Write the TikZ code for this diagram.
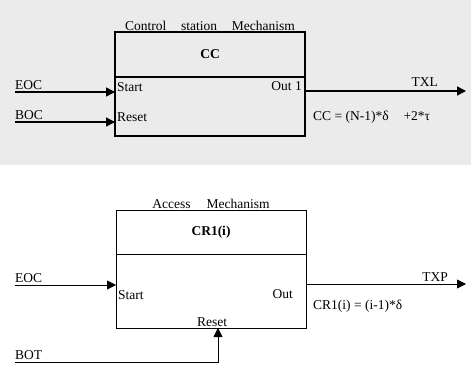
\documentclass[tikz,border=0pt]{standalone}
\usepackage{fontspec}
\setmainfont{Liberation Serif}
\usetikzlibrary{arrows.meta}
\begin{document}
\begin{tikzpicture}[x=1pt,y=-1pt,
  txt/.style={inner sep=0pt, font=\fontsize{13.5}{15}\selectfont},
  thickbox/.style={draw, line width=1.6pt, outer sep=0pt, inner sep=0pt, font=\fontsize{13.5}{15}\selectfont\bfseries},
  thinbox/.style={draw, line width=0.8pt, outer sep=0pt, inner sep=0pt, font=\fontsize{13.5}{15}\selectfont\bfseries},
  arrA/.style={line width=1.6pt, -{Triangle[length=9pt,width=9pt]}},
  arrB/.style={line width=0.8pt, -{Triangle[length=9pt,width=9pt]}}]
\useasboundingbox (0,0) rectangle (471,364);
\fill[gray!16] (0,0) rectangle (471,165);
% ---------- top: control station mechanism ----------
\node[thickbox, minimum width=190pt, minimum height=45pt, anchor=north west] (cct) at (115,32) {CC};
\node[thickbox, minimum width=190pt, minimum height=59pt, anchor=north west] (ccb) at (cct.south west) {};
\node[txt, anchor=south] (cctitle) at ([yshift=1.5pt]cct.north) {Control\hspace{1.1em}station\hspace{1.1em}Mechanism};
\node[txt, anchor=west] (ccstart) at (117,87) {Start};
\node[txt, anchor=west] (ccreset) at (117,117) {Reset};
\node[txt, anchor=east] (ccout) at (302,86) {Out 1};
\coordinate (eocA) at (15,92);
\coordinate (bocA) at (15,122);
\coordinate (txlA) at (466,91);
\draw[arrA] (eocA) -- (eocA -| ccb.west);
\draw[arrA] (bocA) -- (bocA -| ccb.west);
\draw[arrA] (txlA -| ccb.east) -- (txlA);
\node[txt, anchor=south west] (eoclA) at ([yshift=2pt]eocA) {EOC};
\node[txt, anchor=south west] (boclA) at ([yshift=2pt]bocA) {BOC};
\node[txt, anchor=south east] (txllA) at (438,87) {TXL};
\node[txt, anchor=west] (ccform) at (313,117) {CC = (N-1)*δ\hspace{1.1em}+2*τ};
% ---------- bottom: access mechanism ----------
\node[thinbox, minimum width=190pt, minimum height=44pt, anchor=north west] (crt) at (116,210) {CR1(i)};
\node[thinbox, minimum width=190pt, minimum height=74pt, anchor=north west] (crb) at (crt.south west) {};
\node[txt, anchor=south] (crtitle) at ([yshift=1pt]crt.north) {Access\hspace{1.2em}Mechanism};
\node[txt, anchor=west] (crstart) at (118,295) {Start};
\node[txt, anchor=east] (crout) at (293,294) {Out};
\node[txt, anchor=south] (crreset) at (212,327) {Reset};
\coordinate (eocB) at (15,285);
\coordinate (txpB) at (466,284);
\coordinate (botB) at (15,362);
\coordinate (botC) at (218,362);
\draw[arrB] (eocB) -- (eocB -| crb.west);
\draw[arrB] (txpB -| crb.east) -- (txpB);
\draw[arrB] (botB) -- (botC) -- (botC |- crb.south);
\node[txt, anchor=south west] (eoclB) at ([yshift=2pt]eocB) {EOC};
\node[txt, anchor=south west] (botlB) at ([yshift=2pt]botB) {BOT};
\node[txt, anchor=south east] (txplB) at (448,282) {TXP};
\node[txt, anchor=west] (crform) at (313,306) {CR1(i) = (i-1)*δ};
\end{tikzpicture}
\end{document}
